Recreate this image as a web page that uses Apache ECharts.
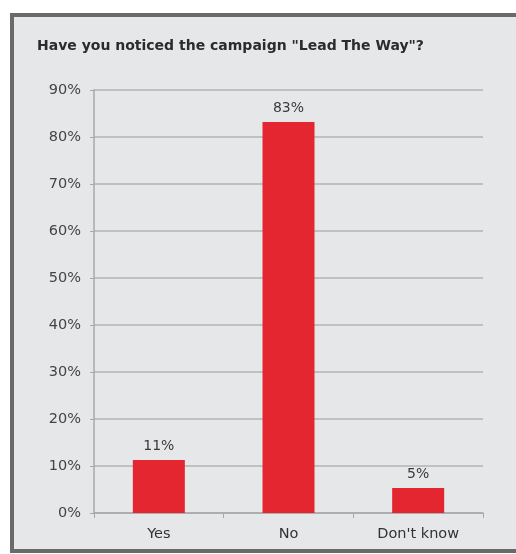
<!DOCTYPE html>
<html>
<head>
<meta charset="utf-8">
<script src="https://cdn.jsdelivr.net/npm/echarts@6/dist/echarts.min.js"></script>
<style>
html,body{margin:0;padding:0;background:#fff;overflow:hidden;}
#c{width:516px;height:554px;}
</style>
</head>
<body>
<div id="c"></div>
<script>
const categories = ["Yes", "No", "Don't know"];
const values = [11.3, 83.2, 5.3];
const valueLabels = ["11%", "83%", "5%"];
const yTicks = [0, 10, 20, 30, 40, 50, 60, 70, 80, 90];
const titleText = 'Have you noticed the campaign "Lead The Way"?';

const chart = echarts.init(document.getElementById('c'), null, {renderer: 'canvas', width: 516, height: 554});
const textFont = 'DejaVu Sans';
chart.setOption({
  backgroundColor: '#ffffff',
  animation: false,
  graphic: [
    {type: 'rect', z: -10, shape: {x: 12, y: 15, width: 560, height: 536},
     style: {fill: '#e6e7e9', stroke: '#6a6a6a', lineWidth: 4}},
    {type: 'text', left: 37, top: 39, z: 10,
     style: {text: titleText, fill: '#2b2b2b', font: 'bold 14px "DejaVu Sans"'}}
  ],
  grid: {left: 94, right: 33, top: 90, bottom: 41, containLabel: false},
  xAxis: {
    type: 'category',
    data: categories,
    axisLine: {show: true, lineStyle: {color: '#a8a8a8', width: 1.5}},
    axisTick: {show: true, length: 5, alignWithLabel: false, lineStyle: {color: '#a8a8a8'}},
    axisLabel: {color: '#333', fontFamily: textFont, fontSize: 14.5, margin: 14}
  },
  yAxis: {
    type: 'value',
    min: 0, max: 90, interval: 10,
    axisLine: {show: true, lineStyle: {color: '#a8a8a8', width: 1.5}},
    axisTick: {show: true, length: 4, lineStyle: {color: '#a8a8a8'}},
    splitLine: {show: true, lineStyle: {color: '#b3b3b3', width: 1.5}},
    axisLabel: {color: '#444', fontFamily: textFont, fontSize: 14.5, margin: 13,
      formatter: function (v) { return yTicks.indexOf(v) >= 0 ? v + '%' : ''; }}
  },
  series: [{
    type: 'bar',
    data: values,
    barWidth: 52,
    itemStyle: {color: '#e3262f'},
    label: {
      show: true, position: 'top', distance: 7,
      color: '#3a3a3a', fontFamily: textFont, fontSize: 14,
      formatter: function (p) { return valueLabels[p.dataIndex]; }
    }
  }]
});
</script>
</body>
</html>
